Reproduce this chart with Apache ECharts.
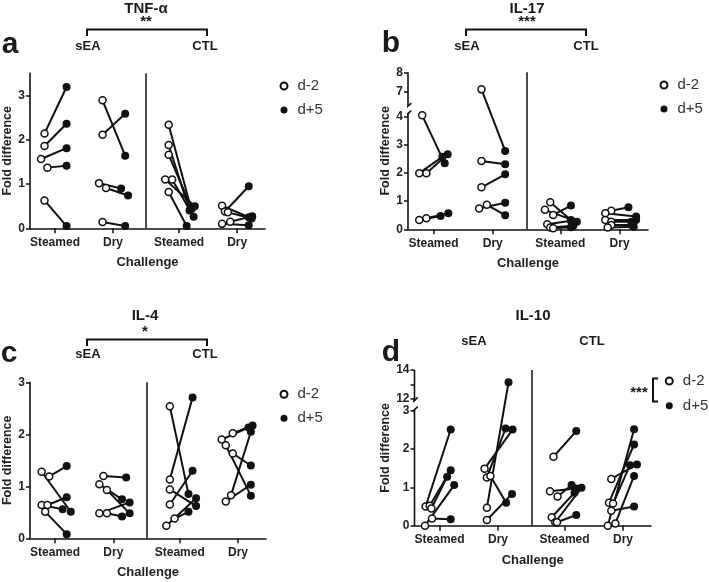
<!DOCTYPE html>
<html><head><meta charset="utf-8">
<script src="https://cdn.jsdelivr.net/npm/echarts@6/dist/echarts.min.js"></script>
<style>html,body{margin:0;padding:0;background:#fff}#c{width:709px;height:582px}</style>
</head><body><div id="c"></div>
<script>
// ---------- data ----------
const categories = ['Steamed', 'Dry', 'Steamed', 'Dry'];
const catPos = [1, 2, 3.14, 4.14];
const groupNames = ['sEA', 'CTL'];
const seriesNames = ['d-2', 'd+5'];

// TNF-alpha
const tnfPre = [[2.14,1.86,1.565,1.37,0.63],[2.89,2.11,1.02,0.91,0.14],[2.34,1.88,1.66,1.10,1.10,0.82],[0.51,0.38,0.36,0.15,0.10]];
const tnfPost = [[3.19,2.36,1.81,1.41,0.05],[1.64,2.585,0.90,0.74,0.05],[0.47,0.40,0.44,0.50,0.26,0.05],[0.25,0.95,0.22,0.27,0.07]];
const tnfPreDx = [[-0.18,-0.18,-0.24,-0.13,-0.18],[-0.18,-0.18,-0.24,-0.12,-0.18],[-0.18,-0.18,-0.18,-0.24,-0.12,-0.18],[-0.26,-0.21,-0.16,-0.12,-0.26]];
const tnfPostDx = [[0.2,0.2,0.2,0.2,0.2],[0.21,0.21,0.14,0.26,0.21],[0.2,0.18,0.22,0.27,0.25,0.13],[0.2,0.2,0.25,0.26,0.2]];

// IL-17
const il17Pre = [[4.04,1.99,1.99,0.33,0.39],[7.12,2.42,1.49,0.87,0.74],[0.96,0.69,0.51,0.18,0.06,0.04],[0.66,0.57,0.33,0.27,0.15,0.06]];
const il17Post = [[2.34,2.57,2.66,0.47,0.57],[2.78,2.31,1.95,0.50,0.94],[0.33,0.27,0.84,0.30,0.13,0.07],[0.78,0.45,0.33,0.27,0.15,0.09]];
const il17PreDx = [[-0.19,-0.24,-0.12,-0.24,-0.12],[-0.19,-0.19,-0.19,-0.1,-0.23],[-0.17,-0.26,-0.12,-0.22,-0.17,-0.12],[-0.14,-0.24,-0.24,-0.14,-0.14,-0.2]];
const il17PostDx = [[0.19,0.15,0.24,0.12,0.25],[0.21,0.21,0.21,0.21,0.21],[0.18,0.28,0.18,0.18,0.22,0.18],[0.15,0.28,0.28,0.2,0.2,0.24]];

// IL-4
const il4Pre = [[1.28,1.19,0.64,0.64,0.51],[1.20,1.04,0.93,0.48,0.48],[2.54,1.13,0.94,0.65,0.38,0.24],[1.90,2.02,1.79,1.63,0.83,0.71]];
const il4Post = [[0.51,1.39,0.56,0.79,0.08],[1.17,0.75,0.48,0.69,0.42],[0.85,2.71,0.62,1.30,0.51,0.77],[2.13,2.17,0.82,1.40,2.05,1.03]];
const il4PreDx = [[-0.23,-0.10,-0.23,-0.13,-0.17],[-0.17,-0.24,-0.11,-0.24,-0.11],[-0.17,-0.17,-0.17,-0.17,-0.09,-0.23],[-0.28,-0.09,-0.21,-0.09,-0.12,-0.21]];
const il4PostDx = [[0.27,0.2,0.13,0.2,0.2],[0.22,0.15,0.28,0.28,0.15],[0.15,0.22,0.28,0.22,0.15,0.28],[0.18,0.25,0.22,0.22,0.22,0.22]];

// IL-10
const il10Pre = [[0.0,0.50,0.52,0.45,0.19],[0.47,1.49,1.26,1.30,0.15],[1.80,0.90,0.76,0.22,0.09,0.09],[1.22,0.60,0.58,0.39,0.0,0.06]];
const il10Post = [[1.06,2.51,1.45,1.28,0.17],[13.15,2.51,2.54,0.60,0.83],[2.47,0.97,1.06,0.86,0.99,0.28],[1.60,2.12,1.58,0.50,2.52,1.30]];
const il10PreDx = [[-0.25,-0.24,-0.17,-0.14,-0.13],[-0.19,-0.23,-0.19,-0.13,-0.19],[-0.19,-0.25,-0.12,-0.22,-0.16,-0.13],[-0.2,-0.24,-0.17,-0.2,-0.26,-0.13]];
const il10PostDx = [[0.25,0.19,0.19,0.13,0.19],[0.18,0.25,0.13,0.14,0.24],[0.2,0.19,0.12,0.17,0.29,0.2],[0.24,0.19,0.12,0.19,0.19,0.19]];

// tick labels
const yTicksA = [0, 1, 2, 3];
const yTicksB = [0, 1, 2, 3, 4, 7, 8];
const yTicksC = [0, 1, 2, 3];
const yTicksD = [0, 1, 2, 3, 12, 14];
const yMinorD = [13];

// ---------- layout / style ----------
const FONT = '"Liberation Sans", Arial, Helvetica, sans-serif';
const INK = '#111';
const xMin = 0.57, xMax = 4.62, dividerX = 2.57;

function makeBreak(b) {
  if (!b) return v => v;
  return v => v <= b.lowTop ? v : b.lowTop + b.gap + (v - b.upBottom) * b.k;
}

const panels = [
  {pre: tnfPre, post: tnfPost, preDx: tnfPreDx, postDx: tnfPostDx, yTicks: yTicksA, extraTicks: [], yTop: 3.5,
   grid: {left: 30, top: 73.3, width: 235, height: 155}, legend: {left: 279.5, top: 78.5, gap: 8}},
  {pre: il17Pre, post: il17Post, preDx: il17PreDx, postDx: il17PostDx, yTicks: yTicksB, extraTicks: [], yTop: 8,
   brk: {lowTop: 4.1, upBottom: 6.26, gap: 0.27, k: 0.688},
   grid: {left: 408, top: 72.3, width: 240, height: 157}, legend: {left: 659.5, top: 77.5, gap: 8}},
  {pre: il4Pre, post: il4Post, preDx: il4PreDx, postDx: il4PostDx, yTicks: yTicksC, extraTicks: [], yTop: 3,
   grid: {left: 30, top: 382.3, width: 236, height: 156}, legend: {left: 279.5, top: 386.8, gap: 8}},
  {pre: il10Pre, post: il10Post, preDx: il10PreDx, postDx: il10PostDx, yTicks: yTicksD, extraTicks: yMinorD, yTop: 14,
   brk: {lowTop: 3.03, upBottom: 11.9, gap: 0.24, k: 0.3786},
   grid: {left: 414.5, top: 370, width: 236.5, height: 155.7}, legend: {left: 664.8, top: 373.5, gap: 8.7}}
];

const grids = [], xAxes = [], yAxes = [], series = [], legends = [];

panels.forEach((p, i) => {
  const T = makeBreak(p.brk);
  const yMaxT = T(p.yTop);
  grids.push(Object.assign({containLabel: false}, p.grid));
  xAxes.push({
    type: 'value', gridIndex: i, min: xMin, max: xMax,
    name: 'Challenge', nameLocation: 'middle', nameGap: 28,
    nameTextStyle: {fontFamily: FONT, fontWeight: 'bold', fontSize: 13, color: '#222'},
    axisLine: {show: true, lineStyle: {color: INK, width: 1.6}},
    axisTick: {show: true, customValues: catPos, length: 5, inside: false, lineStyle: {color: INK, width: 1.5}},
    axisLabel: {show: true, customValues: catPos, margin: 8,
      formatter: v => { const k = catPos.findIndex(c => Math.abs(c - v) < 1e-6); return k >= 0 ? categories[k] : ''; },
      fontFamily: FONT, fontWeight: 'bold', fontSize: 12, color: '#222'},
    splitLine: {show: false}
  });
  const tickT = p.yTicks.map(T);
  const allTicks = p.yTicks.concat(p.extraTicks).map(T);
  yAxes.push({
    type: 'value', gridIndex: i, min: 0, max: yMaxT,
    name: 'Fold difference', nameLocation: 'middle', nameRotate: 90, nameGap: 14,
    nameTextStyle: {fontFamily: FONT, fontWeight: 'bold', fontSize: 12.5, color: '#222'},
    axisLine: {show: !p.brk, onZero: false, lineStyle: {color: INK, width: 1.6}},
    axisTick: {show: true, customValues: allTicks, length: 4, lineStyle: {color: INK, width: 1.5}},
    axisLabel: {show: true, customValues: tickT, margin: 5,
      formatter: v => { const k = tickT.findIndex(t => Math.abs(t - v) < 1e-6); return k >= 0 ? String(p.yTicks[k]) : ''; },
      fontFamily: FONT, fontWeight: 'bold', fontSize: 12, color: '#222'},
    splitLine: {show: false}
  });

  // pair lines
  const preData = [], postData = [];
  p.pre.forEach((grp, g) => {
    grp.forEach((v, k) => {
      const a = [catPos[g] + p.preDx[g][k], T(v)];
      const b = [catPos[g] + p.postDx[g][k], T(p.post[g][k])];
      preData.push(a); postData.push(b);
      series.push({type: 'line', name: 'pair', xAxisIndex: i, yAxisIndex: i, data: [a, b],
        symbol: 'none', silent: true, z: 2, lineStyle: {color: INK, width: 2}});
    });
  });
  // divider line between sEA and CTL
  series.push({type: 'line', name: 'divider', xAxisIndex: i, yAxisIndex: i, data: [], silent: true,
    markLine: {symbol: 'none', silent: true, label: {show: false}, animation: false,
      lineStyle: {color: INK, width: 1.5, type: 'solid'}, data: [{xAxis: dividerX}]}});
  // broken axis line segments
  if (p.brk) {
    const lowTopT = T(p.brk.lowTop), upT = T(p.brk.upBottom);
    const dx = 0.055, dy = 3 / (p.grid.height / yMaxT);
    const segs = [
      [[xMin, 0], [xMin, lowTopT]],
      [[xMin, upT], [xMin, yMaxT]],
      [[xMin - dx, lowTopT - dy], [xMin + dx, lowTopT + dy]],
      [[xMin - dx, upT - dy], [xMin + dx, upT + dy]]
    ];
    segs.forEach(s => series.push({type: 'line', name: 'axis', xAxisIndex: i, yAxisIndex: i, data: s,
      symbol: 'none', silent: true, clip: false, z: 4, lineStyle: {color: INK, width: 1.6}}));
  }
  series.push({type: 'scatter', name: 'd-2', xAxisIndex: i, yAxisIndex: i, data: preData, z: 5,
    symbol: 'circle', symbolSize: 7, itemStyle: {color: '#fff', borderColor: INK, borderWidth: 1.5, opacity: 1}});
  series.push({type: 'scatter', name: 'd+5', xAxisIndex: i, yAxisIndex: i, data: postData, z: 5,
    symbol: 'circle', symbolSize: 8, itemStyle: {color: INK, borderColor: INK, borderWidth: 0, opacity: 1}});

  legends.push({data: seriesNames, left: p.legend.left, top: p.legend.top, orient: 'vertical',
    itemWidth: 7, itemHeight: 7, itemGap: p.legend.gap + 1, padding: 0, icon: 'circle', selectedMode: false,
    textStyle: {fontFamily: FONT, fontSize: 15, color: '#333', padding: [0, 0, 0, 5]}});
});

// ---------- annotations ----------
function txt(text, x, y, size, weight) {
  return {type: 'text', silent: true, style: {text, x, y, align: 'center', verticalAlign: 'middle',
    font: (weight || 'bold') + ' ' + size + 'px ' + FONT, fill: '#1a1a1a'}};
}
function bracket(x1, x2, y, drop) {
  return {type: 'polyline', silent: true, shape: {points: [[x1, y + drop], [x1, y], [x2, y], [x2, y + drop]]},
    style: {stroke: INK, lineWidth: 2, fill: null}};
}
const graphics = [
  txt('a', 10, 45, 30), txt('b', 391, 44, 30), txt('c', 9, 354, 30), txt('d', 391, 353, 30),
  txt('TNF-α', 146, 9, 15), txt('**', 146, 22, 15), bracket(87, 207, 29.5, 6.5),
  txt('sEA', 88, 46, 13), txt('CTL', 205, 46, 13),
  txt('IL-17', 527, 9, 15), txt('***', 527, 22, 15), bracket(466, 586, 29.5, 6.5),
  txt('sEA', 467, 46, 13), txt('CTL', 586, 46, 13),
  txt('IL-4', 145, 316, 15), txt('*', 145, 332, 15), bracket(87, 207, 339.5, 6.5),
  txt('sEA', 88, 354, 13), txt('CTL', 205, 354, 13),
  txt('IL-10', 533, 316, 15),
  txt('sEA', 474, 341, 13), txt('CTL', 592, 341, 13),
  txt('***', 639, 393, 15),
  {type: 'polyline', silent: true, shape: {points: [[658, 378.5], [653, 378.5], [653, 401.5], [658, 401.5]]},
    style: {stroke: INK, lineWidth: 2, fill: null}}
];

const chart = echarts.init(document.getElementById('c'), null, {renderer: 'canvas'});
chart.setOption({
  animation: false,
  backgroundColor: '#fff',
  grid: grids, xAxis: xAxes, yAxis: yAxes, series: series, legend: legends,
  graphic: graphics
});
</script>
</body></html>
